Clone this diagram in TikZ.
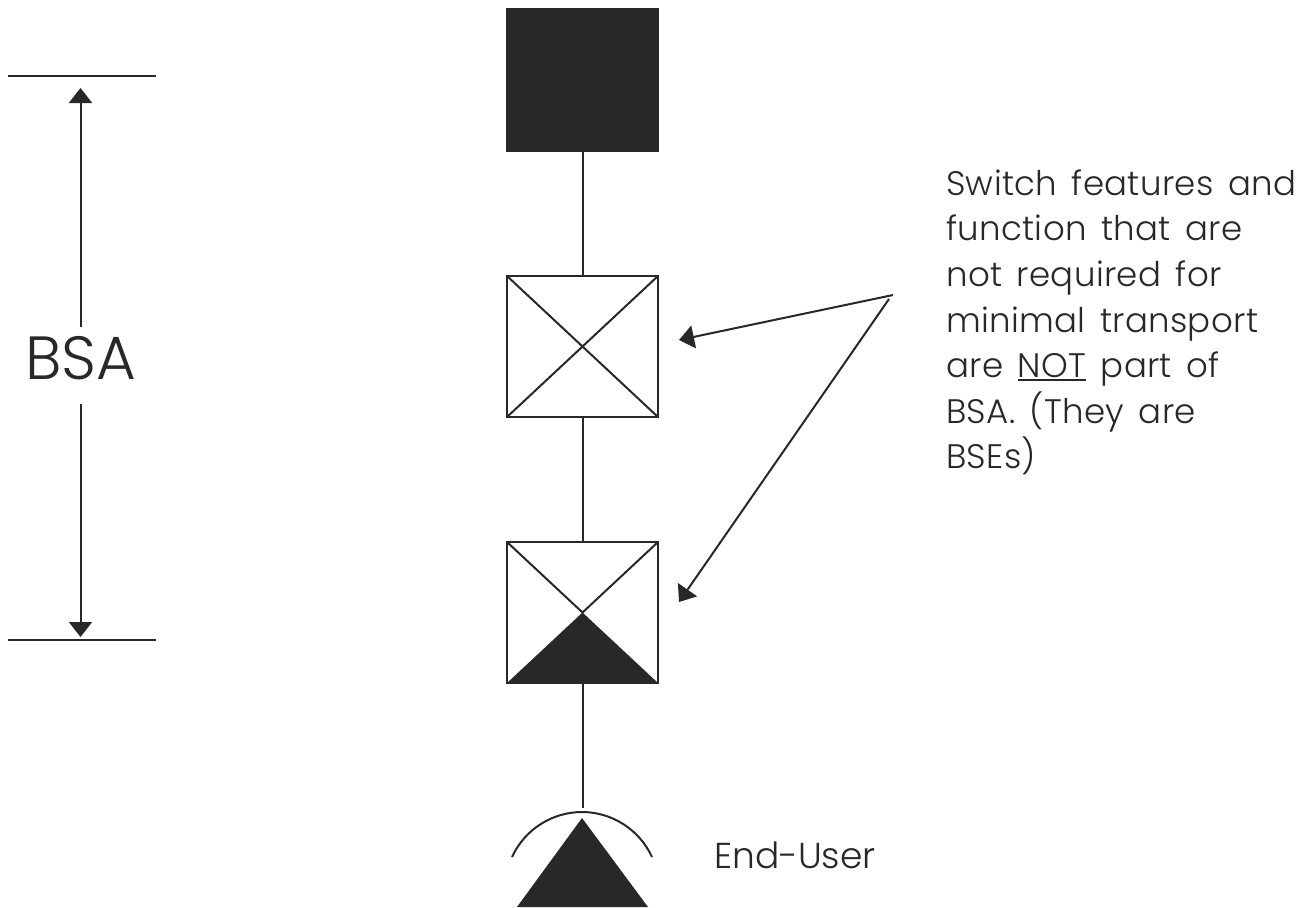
\documentclass[tikz,border=0pt]{standalone}
\usepackage{fontspec}
\setmainfont[UprightFont=* Light,BoldFont=* Light]{Poppins}
\newfontfamily\wideface[UprightFont=* Light,LetterSpace=1,WordSpace=1.5]{Poppins}
\newcommand\thickul[1]{\setbox0\hbox{#1}\rlap{\rule[-4pt]{\wd0}{2pt}}\box0{}}
\usetikzlibrary{arrows.meta}
\definecolor{ink}{RGB}{40,40,40}
\tikzset{
  x=1pt,y=-1pt,
  lin/.style={draw=ink,line width=2pt},
  boxs/.style={draw=ink,line width=2.2pt,fill=white,minimum width=151pt,minimum height=141pt,inner sep=0,outer sep=0},
  arr/.style={draw=ink,line width=2pt,-{Triangle[length=15pt,width=23pt,fill=ink]}},
  lab/.style={text=ink,inner sep=0,anchor=base west,font=\wideface\fontsize{34}{34}\selectfont},
}
\begin{document}
\begin{tikzpicture}
\useasboundingbox (0,0) rectangle (1313,907);
\fill[white] (0,0) rectangle (1313,907);
\node[boxs,fill=ink,minimum height=142pt] (top) at (582.5,80) {};
\node[boxs] (mid) at (582.5,346.5) {};
\node[boxs] (low) at (582.5,612.5) {};
\draw[lin] (top.south)--(mid.north);
\draw[lin] (mid.south)--(low.north);
\draw[lin] (mid.north west)--(mid.south east);
\draw[lin] (mid.north east)--(mid.south west);
\fill[ink] (low.center)--(low.south east)--(low.south west)--cycle;
\draw[lin] (low.north west)--(low.center);
\draw[lin] (low.north east)--(low.center);
\coordinate (apex) at (582,818);
\fill[ink] (apex)--(648,907)--(517,907)--cycle;
\coordinate (arcL) at (512,857);
\coordinate (arcR) at (652,857);
\coordinate (arcT) at (582,812);
\coordinate (lineEnd) at (582.5,808);
\draw[lin] (arcL) .. controls (524.5,829.7) and (552,812) .. (arcT) .. controls (612,812) and (639.5,829.7) .. (arcR);
\draw[lin] (low.south)--(lineEnd);
\node[text=ink,inner sep=0,anchor=base west,font=\fontsize{36}{36}\selectfont] (eu) at (714,868) {End-User};
\coordinate (t1) at (8,76); \coordinate (t2) at (156,76);
\coordinate (b1) at (8,640); \coordinate (b2) at (156,640);
\draw[lin] (t1)--(t2);
\draw[lin] (b1)--(b2);
\node[text=ink,font=\fontsize{61}{61}\selectfont,inner sep=0] (bsa) at (81,358) {BSA};
\coordinate (dt) at (80.5,88); \coordinate (db) at (80.5,637);
\coordinate (ds) at (80.5,327); \coordinate (de) at (80.5,404);
\draw[arr] (ds) -- (dt);
\draw[arr] (de) -- (db);
\coordinate (c) at (893,295);
\coordinate (c2) at (889,299);
\coordinate (ta) at (679,340);
\coordinate (tb) at (679,602);
\draw[arr] (c)--(ta);
\draw[arr] (c2)--(tb);
\node[lab] (t1x) at (946,195) {Switch features and};
\node[lab] (t2x) at (946,240) {function that are};
\node[lab] (t3x) at (946,286) {not required for};
\node[lab] (t4x) at (946,332) {minimal transport};
\node[lab] (t5x) at (946,377) {are \thickul{NOT} part of};
\node[lab] (t6x) at (946,423) {BSA. (They are};
\node[lab] (t7x) at (946,468) {BSEs)};
\end{tikzpicture}
\end{document}
